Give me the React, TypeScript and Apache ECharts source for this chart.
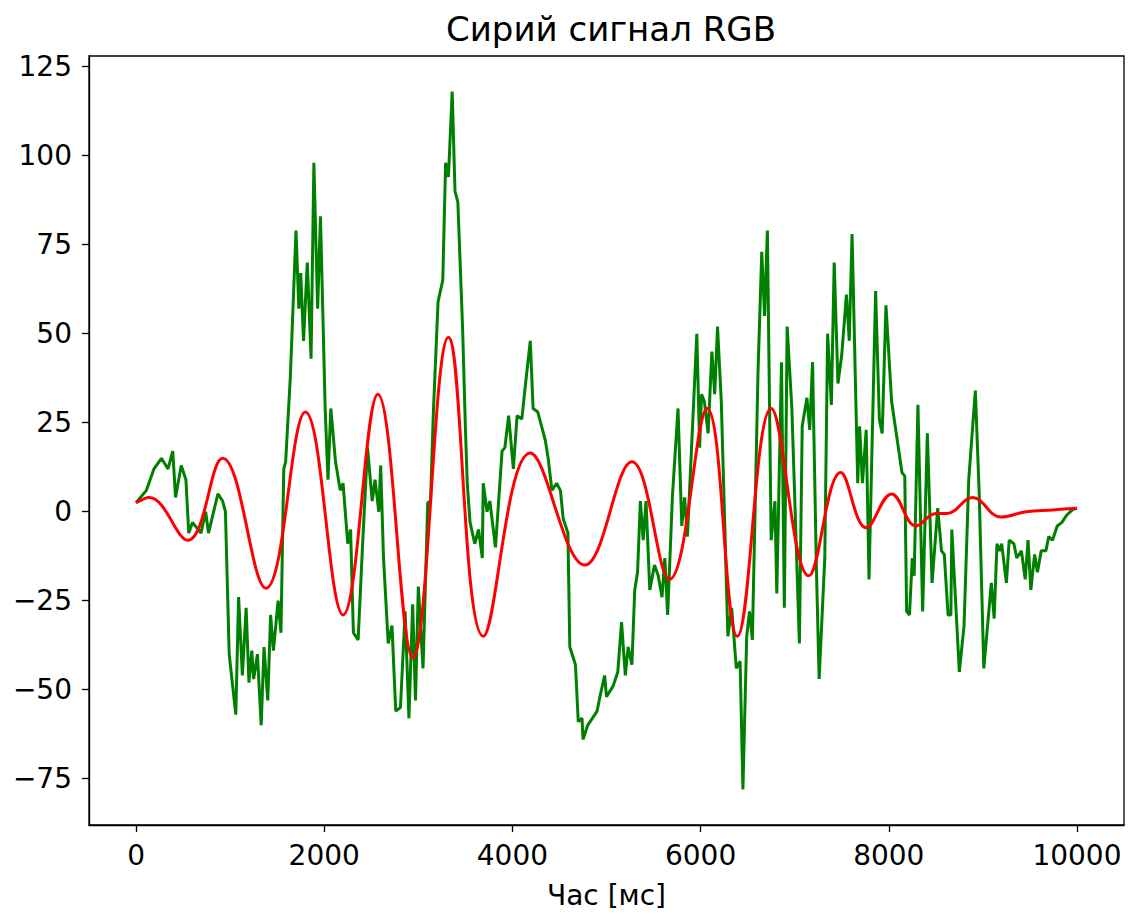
import React, { useEffect, useRef } from 'react';
import * as echarts from 'echarts';

const titleText = 'Сирий сигнал RGB';
const xAxisName = 'Час [мс]';

const greenTimes = [
  0, 110, 190, 270, 340, 390, 420, 480, 530, 560, 600, 690, 740, 770, 870, 920, 950, 990,
  1060, 1090, 1130, 1170, 1200, 1230, 1250, 1290, 1330, 1360, 1400, 1430, 1460, 1510, 1540,
  1570, 1590, 1640, 1700, 1730, 1750, 1780, 1820, 1860, 1890, 1930, 1960, 2010, 2040, 2070,
  2120, 2170, 2200, 2250, 2280, 2310, 2360, 2410, 2460, 2510, 2540, 2580, 2600, 2630, 2680,
  2720, 2760, 2810, 2860, 2900, 2940, 2970, 3000, 3050, 3100, 3130, 3160, 3210, 3260, 3290,
  3320, 3360, 3390, 3420, 3470, 3500, 3520, 3550, 3600, 3640, 3680, 3690, 3730, 3760, 3820,
  3890, 3920, 3960, 4010, 4050, 4100, 4140, 4190, 4220, 4270, 4320, 4350, 4380, 4420, 4470,
  4510, 4540, 4590, 4610, 4670, 4700, 4740, 4750, 4800, 4900, 4930, 4980, 5000, 5070, 5120,
  5160, 5200, 5230, 5270, 5300, 5330, 5360, 5390, 5420, 5460, 5510, 5550, 5590, 5620, 5650,
  5700, 5760, 5800, 5830, 5860, 5960, 5990, 6010, 6040, 6080, 6120, 6150, 6180, 6220, 6290,
  6330, 6380, 6420, 6450, 6490, 6520, 6550, 6610, 6650, 6680, 6710, 6750, 6790, 6810, 6860,
  6890, 6920, 6970, 7050, 7080, 7130, 7160, 7190, 7230, 7260, 7320, 7350, 7390, 7420, 7460,
  7500, 7550, 7580, 7610, 7670, 7690, 7720, 7760, 7790, 7860, 7900, 7930, 7970, 8030, 8140,
  8170, 8190, 8220, 8250, 8270, 8310, 8360, 8410, 8460, 8520, 8560, 8590, 8630, 8660, 8670,
  8750, 8800, 8850, 8920, 8960, 9010, 9090, 9120, 9150, 9180, 9200, 9250, 9280, 9330, 9360,
  9410, 9450, 9480, 9510, 9550, 9580, 9620, 9670, 9700, 9740, 9790, 9840, 9890, 9950, 10000,
];
const greenValues = [
  2.5, 6, 12, 15, 12, 17, 4, 13, 9, -6, -3, -6, 0, -6, 5, 3, 0, -40,
  -57, -24, -46, -27, -48, -39, -47, -40, -60, -38, -53, -29, -39, -25, -34,
  12, 14, 38, 79, 57, 67, 48, 70, 43, 98, 57, 83, 29, 9, 29,
  14, 6, 8, -9, -5, -34, -36, -8, 18, 3, 9, 0, 13, -13, -37,
  -32, -56, -55, -28, -58, -26, -53, -21, -44, 2.5, 3, 28, 59, 65, 98,
  94, 118, 90, 87, 52, 24, 8, -3, -9, -5, -13, 8, 0, 3, -10,
  17, 18, 27, 12, 27, 26, 36, 48, 29, 28, 23, 20, 15, 6, 8,
  6, -2, -6, -38, -43, -59, -58, -64, -60, -56, -52, -46, -52, -49, -45,
  -31, -46, -38, -43, -22, -17, 3, -8, 3, -22, -15, -18, -24, -13, -29,
  4, 29, -4, 4, -7, 50, 18, 33, 31, 22, 45, 33, 52, 31, -35,
  -27, -44, -42, -78, -35, -28, -36, 39, 73, 55, 79, -8, 3, -23, 42,
  -27, 52, 29, -37, 24, 32, 23, 42, -15, -47, -13, 50, 30, 70, 36,
  44, 61, 48, 78, 8, 24, 8, 23, -19, 62, 26, 22, 58, 31, 11,
  10, -28, -29, -13, -18, 30, -28, 22, -20, 1, -11, -12, -29, -29, -5,
  -45, -32, 9, 34, 6, -44, -20, -30, -9, -11, -9, -20, -8, -9, -13,
  -11, -19, -8, -22, -12, -17, -11, -11, -7, -8, -4, -3, -1, 0.5, 1,
];

const redTimes = [
  0, 140, 550, 920, 1380, 1800, 2200, 2570, 2940, 3320, 3690, 4190, 4770, 5270, 5670,
  6070, 6390, 6750, 7150, 7490, 7760, 8030, 8290, 8500, 8620, 8890, 9190, 9460, 9740, 10000,
];
const redValues = [
  2.5, 4, -8, 15, -21.5, 28, -29, 33, -41, 49, -35, 16.5, -15, 14, -19,
  29, -35, 29, -18, 11, -4.5, 5, -4, -0.5, -0.5, 4, -1.5, 0, 0.5, 1,
];

const xTicks = [0, 2000, 4000, 6000, 8000, 10000];
const yTicks = [-75, -50, -25, 0, 25, 50, 75, 100, 125];

const FONT = 'DejaVu Sans';

export default function App() {
  const ref = useRef<HTMLDivElement>(null);
  useEffect(() => {
    const chart = echarts.init(ref.current!, null, { renderer: 'svg' });
    const green = greenTimes.map((t, i) => [t, greenValues[i]]);
    const red = redTimes.map((t, i) => [t, redValues[i]]);
    chart.setOption({
      animation: false,
      backgroundColor: '#ffffff',
      title: {
        text: titleText,
        left: 606,
        top: 7,
        textAlign: 'center',
        textStyle: { fontFamily: FONT, fontSize: 34, fontWeight: 'normal', color: '#000' },
      },
      grid: {
        left: 89,
        right: 6,
        top: 56,
        bottom: 88,
        show: true,
        borderColor: '#000',
        borderWidth: 1.3,
        containLabel: false,
      },
      xAxis: {
        type: 'value',
        min: -500,
        max: 10500,
        name: xAxisName,
        nameLocation: 'middle',
        nameGap: 56,
        nameTextStyle: { fontFamily: FONT, fontSize: 28, color: '#000' },
        axisLine: { show: true, onZero: false, lineStyle: { color: '#000', width: 1.3 } },
        axisTick: { show: true, inside: false, length: 7, customValues: xTicks, lineStyle: { color: '#000', width: 1.3 } },
        axisLabel: {
          show: true,
          customValues: xTicks,
          margin: 16,
          fontFamily: FONT,
          fontSize: 28,
          color: '#000',
          formatter: (v: number) => String(v),
        },
        splitLine: { show: false },
      },
      yAxis: {
        type: 'value',
        min: -88,
        max: 128,
        axisLine: { show: true, onZero: false, lineStyle: { color: '#000', width: 1.3 } },
        axisTick: { show: true, inside: false, length: 7, customValues: yTicks, lineStyle: { color: '#000', width: 1.3 } },
        axisLabel: {
          show: true,
          customValues: yTicks,
          margin: 17,
          fontFamily: FONT,
          fontSize: 28,
          color: '#000',
          formatter: (v: number) => String(v).replace('-', '\u2212'),
        },
        splitLine: { show: false },
      },
      series: [
        {
          type: 'line',
          data: green,
          showSymbol: false,
          symbol: 'none',
          lineStyle: { color: '#008000', width: 3 },
          z: 2,
        },
        {
          type: 'line',
          data: red,
          showSymbol: false,
          symbol: 'none',
          smooth: 0.4,
          lineStyle: { color: '#ff0000', width: 3 },
          z: 3,
        },
      ],
    });
    return () => chart.dispose();
  }, []);
  return (
    <div
      ref={ref}
      style={{ position: 'fixed', left: 0, top: 0, width: 1130, height: 914, background: '#fff' }}
    />
  );
}
